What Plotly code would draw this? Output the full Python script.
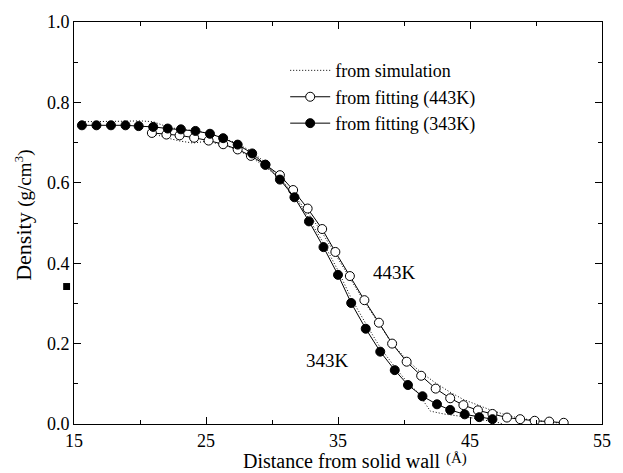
import plotly.graph_objects as go

# Fitted profile, 443 K (open circles)
x_443 = [20.9, 22.0, 23.0, 24.1, 25.2, 26.3, 27.4, 28.4, 29.5, 30.6, 31.6, 32.7, 33.8, 34.8, 35.9,
         37.0, 38.1, 39.1, 40.2, 41.3, 42.4, 43.5, 44.5, 45.6, 46.7, 47.8, 48.8, 49.9, 51.0, 52.1]
y_443 = [0.724, 0.720, 0.718, 0.712, 0.705, 0.696, 0.683, 0.667, 0.645, 0.619, 0.582, 0.536, 0.485,
         0.428, 0.368, 0.308, 0.252, 0.200, 0.155, 0.120, 0.088, 0.064, 0.047, 0.034, 0.025, 0.016,
         0.012, 0.008, 0.006, 0.003]

# Fitted profile, 343 K (filled circles)
x_343 = [15.6, 16.7, 17.8, 18.9, 19.9, 21.0, 22.1, 23.1, 24.2, 25.3, 26.3, 27.4, 28.5, 29.5, 30.6,
         31.7, 32.8, 33.9, 35.0, 36.0, 37.1, 38.2, 39.3, 40.3, 41.4, 42.5, 43.5, 44.6, 45.7, 46.7]
y_343 = [0.743, 0.743, 0.743, 0.743, 0.741, 0.739, 0.735, 0.733, 0.729, 0.722, 0.711, 0.695, 0.673,
         0.645, 0.608, 0.564, 0.504, 0.440, 0.371, 0.301, 0.237, 0.180, 0.134, 0.097, 0.069, 0.049,
         0.035, 0.024, 0.017, 0.012]

# Simulation profiles (dotted)
xs_343 = [15.6, 17.0, 18.5, 20.0, 21.0, 22.0, 23.0, 24.2, 25.3, 26.3, 27.4, 28.5, 29.5, 30.6, 31.7,
          32.8, 33.9, 35.0, 36.0, 37.1, 38.2, 39.3, 40.3, 41.0, 41.5, 42.0, 43.0, 44.0, 45.0, 46.0,
          47.0, 47.5]
ys_343 = [0.752, 0.752, 0.753, 0.754, 0.752, 0.740, 0.733, 0.730, 0.722, 0.712, 0.697, 0.677, 0.650,
          0.612, 0.568, 0.510, 0.450, 0.382, 0.313, 0.250, 0.190, 0.142, 0.102, 0.080, 0.055, 0.032,
          0.025, 0.021, 0.016, 0.010, 0.005, 0.0]

xs_443 = [21.0, 22.0, 23.0, 24.0, 25.0, 26.3, 27.4, 28.4, 29.5, 30.6, 31.6, 32.7, 33.8, 34.8, 35.9,
          37.0, 38.1, 39.1, 40.2, 41.3, 42.4, 43.5, 44.5, 45.6, 46.7, 47.8, 48.8, 49.9, 51.0, 52.4]
ys_443 = [0.722, 0.712, 0.704, 0.699, 0.703, 0.695, 0.682, 0.664, 0.640, 0.610, 0.572, 0.527, 0.476,
          0.422, 0.362, 0.304, 0.250, 0.200, 0.160, 0.128, 0.102, 0.079, 0.061, 0.046, 0.033, 0.022,
          0.014, 0.009, 0.005, 0.0]

# Stray square mark left of the axis in the original scan (data units)
stray_x = [14.44]
stray_y = [0.342]

labels = ["from simulation", "from fitting (443K)", "from fitting (343K)"]
curve_labels = ["443K", "343K"]
x_title = "Distance from solid wall"
x_unit = "(Å)"
x_ticks = [15, 25, 35, 45, 55]
y_ticks = [0.0, 0.2, 0.4, 0.6, 0.8, 1.0]
x_range = [15, 55]
y_range = [0, 1]

FONT = "Liberation Serif"
DOT = "1px,2px"

fig = go.Figure()
fig.add_trace(go.Scatter(x=xs_443, y=ys_443, mode="lines", name=labels[0],
                         line=dict(color="black", width=1, dash=DOT)))
fig.add_trace(go.Scatter(x=xs_343, y=ys_343, mode="lines", showlegend=False,
                         line=dict(color="black", width=1, dash=DOT)))
fig.add_trace(go.Scatter(x=x_443, y=y_443, mode="lines+markers", name=labels[1],
                         line=dict(color="black", width=1),
                         marker=dict(symbol="circle", size=9, color="white",
                                     line=dict(color="black", width=1))))
fig.add_trace(go.Scatter(x=x_343, y=y_343, mode="lines+markers", name=labels[2],
                         line=dict(color="black", width=1),
                         marker=dict(symbol="circle", size=9, color="black",
                                     line=dict(color="black", width=1))))

# stray square (outside the axes, so drawn as a paper-referenced shape)
for sx, sy in zip(stray_x, stray_y):
    px = (sx - x_range[0]) / (x_range[1] - x_range[0])
    py = (sy - y_range[0]) / (y_range[1] - y_range[0])
    hw, hh = 3.5 / 537, 3.5 / 404
    fig.add_shape(type="rect", xref="paper", yref="paper",
                  x0=px - hw, x1=px + hw, y0=py - hh, y1=py + hh,
                  fillcolor="black", line=dict(width=0))

fig.add_annotation(x=39.3, y=0.377, text=curve_labels[0], showarrow=False,
                   font=dict(family=FONT, size=19, color="black"))
fig.add_annotation(x=34.2, y=0.158, text=curve_labels[1], showarrow=False,
                   font=dict(family=FONT, size=19, color="black"))

# axis titles
fig.add_annotation(xref="paper", yref="paper", x=0.5075, y=-0.0916,
                   xanchor="center", yanchor="middle", showarrow=False,
                   text=x_title, font=dict(family=FONT, size=20, color="black"))
fig.add_annotation(xref="paper", yref="paper", x=0.700, y=-0.0866,
                   xanchor="left", yanchor="middle", showarrow=False,
                   text=x_unit, font=dict(family=FONT, size=15, color="black"))
fig.add_annotation(xref="paper", yref="paper", x=-0.095, y=0.52,
                   xanchor="center", yanchor="middle", showarrow=False, textangle=-90,
                   text="Density <span style='font-size:19px'>(g/cm<sup>3</sup>)</span>",
                   font=dict(family=FONT, size=22, color="black"))

axis_common = dict(showline=True, linecolor="black", linewidth=1, mirror="ticks",
                   ticks="inside", ticklen=7, tickcolor="black", tickwidth=1,
                   showgrid=False, zeroline=False,
                   tickfont=dict(family=FONT, size=18, color="black"))

fig.update_xaxes(range=x_range, tickvals=x_ticks, ticktext=[str(v) for v in x_ticks],
                 minor=dict(tickvals=[20, 30, 40, 50], ticks="inside", ticklen=4,
                            tickcolor="black"),
                 **axis_common)
fig.update_yaxes(range=y_range, tickvals=y_ticks, ticktext=[f"{v:.1f}" for v in y_ticks],
                 minor=dict(tickvals=[0.1, 0.3, 0.5, 0.7, 0.9], ticks="inside", ticklen=4,
                            tickcolor="black"),
                 **axis_common)

fig.update_layout(
    width=623, height=473,
    margin=dict(l=74, r=12, t=20, b=49),
    paper_bgcolor="white", plot_bgcolor="white",
    showlegend=True,
    legend=dict(x=0.40, y=0.925, xanchor="left", yanchor="top",
                bgcolor="rgba(0,0,0,0)", borderwidth=0,
                font=dict(family=FONT, size=18, color="black"),
                itemwidth=40, tracegroupgap=0),
    font=dict(family=FONT, color="black"),
)

fig.write_html("out.html")
